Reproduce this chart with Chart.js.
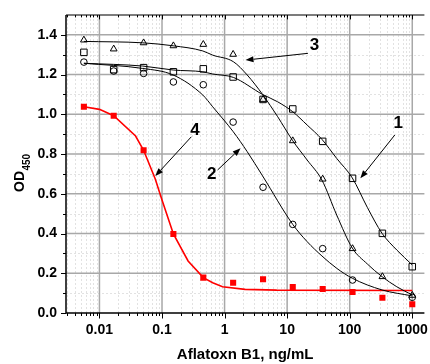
<!DOCTYPE html>
<html><head><meta charset="utf-8">
<script src="https://cdn.jsdelivr.net/npm/chart.js@4"></script>
<style>html,body{margin:0;padding:0;background:#fff;overflow:hidden}canvas{display:block}</style>
</head><body>
<canvas id="c" width="430" height="364"></canvas>
<script>
// ---- data ----
const conc        = [0.00564, 0.0169, 0.0508, 0.152, 0.457, 1.37, 4.12, 12.3, 37.0, 111, 333, 1000];
const odSquares   = [1.312, 1.225, 1.235, 1.214, 1.229, 1.188, 1.075, 1.027, 0.864, 0.678, 0.401, 0.233];
const odCircles   = [1.263, 1.218, 1.206, 1.163, 1.149, 0.961, 0.633, 0.446, 0.324, 0.166, null, 0.079];
const odTriangles = [1.374, 1.329, 1.360, 1.345, 1.352, 1.302, 1.075, 0.867, 0.674, 0.324, 0.183, 0.089];
const odRed       = [1.038, 0.993, 0.819, 0.398, 0.178, 0.152, 0.170, 0.131, 0.121, 0.106, 0.077, 0.044];

// fitted curves
const fit1X = [0.00564, 0.0493, 0.151, 0.449, 0.646, 1.38, 4.05, 7.06, 12.3, 20.9, 36, 62, 110, 191, 329, 566, 1000];
const fit1Y = [1.257, 1.243, 1.223, 1.214, 1.203, 1.186, 1.100, 1.063, 1.013, 0.946, 0.874, 0.778, 0.680, 0.532, 0.401, 0.317, 0.242];
const fit2X = [0.00564, 0.0493, 0.151, 0.449, 0.646, 1.38, 2.3, 4.05, 12.3, 20.9, 36, 62, 110, 329, 1000];
const fit2Y = [1.257, 1.231, 1.198, 1.097, 1.038, 0.912, 0.812, 0.690, 0.446, 0.359, 0.287, 0.225, 0.175, 0.116, 0.086];
const fit3X = [0.00564, 0.0493, 0.151, 0.449, 0.646, 1.38, 2.3, 4.05, 7.06, 12.3, 20.9, 36, 62, 110, 191, 329, 566, 1000];
const fit3Y = [1.367, 1.360, 1.345, 1.319, 1.298, 1.265, 1.198, 1.100, 0.988, 0.867, 0.770, 0.669, 0.493, 0.327, 0.247, 0.183, 0.132, 0.091];
const fit4X = [0.00564, 0.01, 0.0169, 0.0378, 0.0508, 0.078, 0.1, 0.152, 0.261, 0.457, 0.646, 0.927, 2.13, 6.8, 1000];
const fit4Y = [1.038, 1.025, 0.993, 0.891, 0.819, 0.675, 0.569, 0.398, 0.262, 0.178, 0.152, 0.132, 0.119, 0.115, 0.113];

// axes
const xMajorTicks = [0.01, 0.1, 1, 10, 100, 1000];
const xTickLabels = ['0.01', '0.1', '1', '10', '100', '1000'];
const yMajorTicks = [0, 0.2, 0.4, 0.6, 0.8, 1.0, 1.2, 1.4];
const yTickLabels = ['0.0', '0.2', '0.4', '0.6', '0.8', '1.0', '1.2', '1.4'];
const yMinorTicks = [0.1, 0.3, 0.5, 0.7, 0.9, 1.1, 1.3];
const X_MIN = 0.00292, X_MAX = 1563, Y_MIN = 0, Y_MAX = 1.5;
const xTitle = 'Aflatoxn B1, ng/mL';
const yTitleMain = 'OD', yTitleSub = '450';

// annotations (data units)
const noteText  = ['1', '2', '3', '4'];
const noteX     = [597, 0.622, 27.3, 0.337];
const noteY     = [0.956, 0.700, 1.346, 0.918];
const arrowFromX = [526, 0.774, 21.5, 0.294];
const arrowFromY = [0.896, 0.720, 1.307, 0.887];
const arrowToX   = [148, 1.80, 2.16, 0.078];
const arrowToY   = [0.678, 0.829, 1.273, 0.689];

const xMinorTicks = [];
for (let e = -3; e <= 3; e++) for (let m = 2; m <= 9; m++) {
  const v = +(m * Math.pow(10, e)).toPrecision(3);
  if (v > X_MIN && v < X_MAX) xMinorTicks.push(v);
}

const FONT = '"Liberation Sans", Arial, sans-serif';
const pts = (xs, ys) => xs.map((x, i) => ({x, y: ys[i]})).filter(p => p.y !== null);

const framePlugin = {
  id: 'frame',
  beforeDatasetsDraw(chart) {
    const {ctx, chartArea: a, scales: {x, y}} = chart;
    ctx.save();
    ctx.lineWidth = 1; ctx.strokeStyle = '#e2e2e2'; ctx.setLineDash([2, 2]);
    ctx.beginPath();
    xMinorTicks.forEach(v => { const p = Math.round(x.getPixelForValue(v)) + 0.5; ctx.moveTo(p, a.top); ctx.lineTo(p, a.bottom); });
    yMinorTicks.forEach(v => { const p = Math.round(y.getPixelForValue(v)) + 0.5; ctx.moveTo(a.left, p); ctx.lineTo(a.right, p); });
    ctx.stroke();
    ctx.setLineDash([]); ctx.strokeStyle = '#a8a8a8'; ctx.lineWidth = 1.5;
    ctx.beginPath();
    xMajorTicks.forEach(v => { const p = x.getPixelForValue(v); ctx.moveTo(p, a.top); ctx.lineTo(p, a.bottom); });
    yMajorTicks.filter(v => v > 0).forEach(v => { const p = y.getPixelForValue(v); ctx.moveTo(a.left, p); ctx.lineTo(a.right, p); });
    ctx.stroke();
    ctx.restore();
  },
  afterDatasetsDraw(chart) {
    const {ctx, chartArea: a, scales: {x, y}} = chart;
    ctx.save();
    // top frame line
    ctx.strokeStyle = '#505050'; ctx.lineWidth = 1.5;
    ctx.beginPath(); ctx.moveTo(a.left, a.top); ctx.lineTo(a.right, a.top); ctx.stroke();
    // axis lines
    ctx.strokeStyle = '#000';
    ctx.beginPath(); ctx.moveTo(a.left, a.top); ctx.lineTo(a.left, a.bottom + 0.75);
    ctx.moveTo(a.left - 0.75, a.bottom); ctx.lineTo(a.right, a.bottom); ctx.stroke();
    // ticks
    ctx.lineWidth = 1;
    ctx.beginPath();
    const xt = (v, len) => { const p = Math.round(x.getPixelForValue(v)) + 0.5;
      ctx.moveTo(p, a.bottom); ctx.lineTo(p, a.bottom + len);
      ctx.moveTo(p, a.top); ctx.lineTo(p, a.top + len * 0.8); };
    xMajorTicks.forEach(v => xt(v, 5.5));
    xMinorTicks.forEach(v => xt(v, 3));
    const yt = (v, len) => { const p = Math.round(y.getPixelForValue(v)) + 0.5;
      ctx.moveTo(a.left, p); ctx.lineTo(a.left - len, p); };
    yMajorTicks.forEach(v => yt(v, 5));
    yMinorTicks.forEach(v => yt(v, 3));
    ctx.stroke();
    // annotations
    ctx.fillStyle = '#000'; ctx.strokeStyle = '#000'; ctx.lineWidth = 1;
    for (let i = 0; i < noteText.length; i++) {
      const x0 = x.getPixelForValue(arrowFromX[i]), y0 = y.getPixelForValue(arrowFromY[i]);
      const x1 = x.getPixelForValue(arrowToX[i]), y1 = y.getPixelForValue(arrowToY[i]);
      const ang = Math.atan2(y1 - y0, x1 - x0);
      const L = 8, W = 3;
      const bx = x1 - L * Math.cos(ang), by = y1 - L * Math.sin(ang);
      ctx.beginPath(); ctx.moveTo(x0, y0); ctx.lineTo(bx, by); ctx.stroke();
      ctx.beginPath(); ctx.moveTo(x1, y1);
      ctx.lineTo(bx + W * Math.sin(ang), by - W * Math.cos(ang));
      ctx.lineTo(bx - W * Math.sin(ang), by + W * Math.cos(ang));
      ctx.closePath(); ctx.fill();
      ctx.font = 'bold 17px ' + FONT; ctx.textAlign = 'center'; ctx.textBaseline = 'middle';
      ctx.fillText(noteText[i], x.getPixelForValue(noteX[i]), y.getPixelForValue(noteY[i]));
    }
    // y title with subscript
    ctx.translate(23.5, 192); ctx.rotate(-Math.PI / 2);
    ctx.textAlign = 'left'; ctx.textBaseline = 'alphabetic';
    ctx.font = 'bold 14px ' + FONT; ctx.fillText(yTitleMain, 0, 0);
    const w = ctx.measureText(yTitleMain).width;
    ctx.font = 'bold 10px ' + FONT; ctx.fillText(yTitleSub, w + 0.5, 6.5);
    ctx.restore();
  }
};

const tickFont = {family: FONT, size: 14, weight: 'bold'};
const hollow = 'rgba(0,0,0,0)';
const curve = (xs, ys, color, width, mono) => ({
  data: pts(xs, ys), showLine: true, pointRadius: 0, borderColor: color, borderWidth: width,
  backgroundColor: color, cubicInterpolationMode: mono ? 'monotone' : 'default', tension: 0
});

new Chart(document.getElementById('c'), {
  type: 'scatter',
  data: { datasets: [
    {data: pts(conc, odRed), pointStyle: 'rect', pointRadius: 4.3, backgroundColor: '#ff0000', borderColor: '#ff0000', borderWidth: 0},
    {data: pts(conc, odSquares), pointStyle: 'rect', pointRadius: 4.6, backgroundColor: hollow, borderColor: '#000', borderWidth: 1},
    {data: pts(conc, odCircles), pointStyle: 'circle', pointRadius: 3.3, backgroundColor: hollow, borderColor: '#000', borderWidth: 1},
    {data: pts(conc, odTriangles), pointStyle: 'triangle', pointRadius: 3.9, backgroundColor: hollow, borderColor: '#000', borderWidth: 1},
    curve(fit1X, fit1Y, '#000', 1, true),
    curve(fit2X, fit2Y, '#000', 1, true),
    curve(fit3X, fit3Y, '#000', 1, true),
    curve(fit4X, fit4Y, '#ff0000', 1.6, false)
  ]},
  options: {
    responsive: false, animation: false, devicePixelRatio: 1, events: [],
    layout: {padding: {top: 15, right: 0, bottom: 0, left: 0}},
    plugins: {legend: {display: false}, tooltip: {enabled: false}},
    scales: {
      x: {
        type: 'logarithmic', position: 'bottom', min: X_MIN, max: X_MAX,
        grid: {display: false, drawTicks: true, tickLength: 9}, border: {display: false},
        ticks: {autoSkip: false, maxRotation: 0, minRotation: 0, padding: 0, color: '#000', font: tickFont,
          callback: v => { const i = xMajorTicks.indexOf(v); return i >= 0 ? xTickLabels[i] : ''; }},
        afterBuildTicks: s => {
          s.ticks = [X_MIN, ...xMinorTicks, ...xMajorTicks, X_MAX].sort((p, q) => p - q).map(v => ({value: v}));
        },
        afterFit: s => { s.height = 51; },
        title: {display: true, text: xTitle, color: '#000', font: {family: FONT, size: 15, weight: 'bold'}, padding: {top: 0, bottom: 0}}
      },
      y: {
        type: 'linear', position: 'left', min: Y_MIN, max: Y_MAX,
        grid: {display: false, drawTicks: true, tickLength: 9}, border: {display: false},
        ticks: {autoSkip: false, padding: 0, color: '#000', font: tickFont,
          callback: v => { const i = yMajorTicks.findIndex(t => Math.abs(t - v) < 1e-9); return i >= 0 ? yTickLabels[i] : ''; }},
        afterBuildTicks: s => {
          s.ticks = [...yMajorTicks, ...yMinorTicks, Y_MAX].sort((p, q) => p - q).map(v => ({value: v}));
        },
        afterFit: s => { s.width = 66; }
      }
    }
  },
  plugins: [framePlugin]
});
</script>
</body></html>
